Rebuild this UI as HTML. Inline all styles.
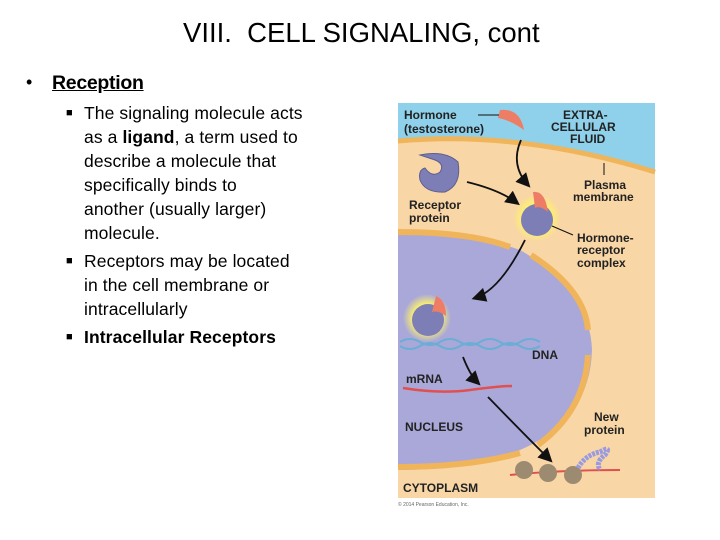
<!DOCTYPE html>
<html><head><meta charset="utf-8"><style>
html,body{margin:0;padding:0;background:#fff}
body{width:720px;height:540px;position:relative;overflow:hidden;font-family:"Liberation Sans",sans-serif;color:#000}
.t{position:absolute;white-space:nowrap}
.l{position:absolute;left:84px;font-size:17.5px;letter-spacing:0.1px;white-space:nowrap}
.b{position:absolute;left:66px;font-size:11px}
</style></head><body>
<div class="t" style="left:183px;top:17px;font-size:27.5px;letter-spacing:0px">VIII.&nbsp; CELL SIGNALING, cont</div>
<div class="t" style="left:26px;top:72px;font-size:18px">•</div>
<div class="t" style="left:52px;top:72px;font-size:19.5px;font-weight:bold;text-decoration:underline;letter-spacing:-0.3px">Reception</div>
<div class="b" style="top:107px">■</div>
<div class="l" style="top:103px">The signaling molecule acts</div>
<div class="l" style="top:127px">as a <b>ligand</b>, a term used to</div>
<div class="l" style="top:151px">describe a molecule that</div>
<div class="l" style="top:175px">specifically binds to</div>
<div class="l" style="top:199px">another (usually larger)</div>
<div class="l" style="top:223px">molecule.</div>
<div class="b" style="top:255px">■</div>
<div class="l" style="top:251px">Receptors may be located</div>
<div class="l" style="top:275px">in the cell membrane or</div>
<div class="l" style="top:299px">intracellularly</div>
<div class="b" style="top:331px">■</div>
<div class="l" style="top:327px;font-weight:bold">Intracellular Receptors</div>

<svg width="720" height="540" style="position:absolute;left:0;top:0" font-family="Liberation Sans,sans-serif" font-weight="bold">
<defs>
<marker id="a" markerWidth="8" markerHeight="8" refX="6" refY="4" orient="auto"><path d="M0,0 L8,4 L0,8 z" fill="#111"/></marker>
<radialGradient id="g"><stop offset="0.55" stop-color="#fff36a"/><stop offset="1" stop-color="#fff36a" stop-opacity="0"/></radialGradient>
</defs>
<rect x="398" y="103" width="257" height="395" fill="#f8d6a6"/>
<path d="M398,103 H655 V172 Q520,130 398,141 Z" fill="#8fd0ea"/>
<path d="M398,141 Q520,130 655,172" fill="none" stroke="#f0b55a" stroke-width="5"/>
<path d="M398,232 Q470,232 520,250 Q590,290 592,350 Q590,420 520,450 Q470,470 398,470 Z" fill="#aaa8d8"/>
<path d="M398,232 Q470,232 510,247" fill="none" stroke="#f0b55a" stroke-width="6"/>
<path d="M531,255 Q585,290 588,330" fill="none" stroke="#f0b55a" stroke-width="6"/>
<path d="M588,355 Q585,410 538,445" fill="none" stroke="#f0b55a" stroke-width="6"/>
<path d="M520,453 Q470,467 398,467" fill="none" stroke="#f0b55a" stroke-width="6"/>
<path d="M500,110 Q520,108 524,130 Q510,120 498,118 Z" fill="#ee7d66"/>
<path d="M420,155 Q445,150 458,162 Q462,185 445,192 Q425,193 420,180 Q418,170 425,168 Q432,178 440,172 Q445,164 435,160 Z" fill="#7d7eb5" stroke="#5d5e90"/>
<circle cx="537" cy="218" r="24" fill="url(#g)"/>
<circle cx="537" cy="220" r="16" fill="#7d7eb5"/>
<path d="M533,192 Q545,190 548,212 Q540,205 535,208 Z" fill="#ee7d66"/>
<circle cx="427" cy="318" r="24" fill="url(#g)"/>
<circle cx="428" cy="320" r="16" fill="#7d7eb5"/>
<path d="M436,296 Q446,300 446,316 Q438,310 432,312 Z" fill="#ee7d66"/>
<path d="M400,342 Q410,336 420,342 T440,342 T460,342 T480,342 T500,342 T520,342 T540,342" fill="none" stroke="#6aaed6" stroke-width="2"/>
<path d="M400,346 Q410,352 420,346 T440,346 T460,346 T480,346 T500,346 T520,346 T540,346" fill="none" stroke="#6aaed6" stroke-width="2"/>
<path d="M403,388 Q440,394 470,390 Q500,386 512,386" fill="none" stroke="#e05050" stroke-width="2.5"/>
<path d="M510,475 Q560,470 620,470" fill="none" stroke="#e05050" stroke-width="2"/>
<circle cx="524" cy="470" r="9" fill="#9c8b70"/><circle cx="548" cy="473" r="9" fill="#9c8b70"/><circle cx="573" cy="475" r="9" fill="#9c8b70"/>
<path d="M578,468 Q585,455 600,452 Q612,445 605,455 Q595,462 600,470" fill="none" stroke="#9a9ae0" stroke-width="5" stroke-dasharray="3,1"/>
<g fill="none" stroke="#111" stroke-width="1.8" marker-end="url(#a)">
<path d="M521,140 Q510,165 528,185"/>
<path d="M467,182 Q500,190 517,203"/>
<path d="M525,240 Q500,290 475,298"/>
<path d="M463,357 Q470,375 478,383"/>
<path d="M488,397 Q520,430 550,460"/>
</g>
<g stroke="#111" stroke-width="1"><line x1="478" y1="115" x2="499" y2="115"/><line x1="604" y1="163" x2="604" y2="175"/><line x1="552" y1="226" x2="573" y2="235"/></g>
<g font-size="12" fill="#222">
<text x="404" y="119">Hormone</text><text x="404" y="133">(testosterone)</text>
<text x="563" y="119">EXTRA-</text><text x="551" y="131">CELLULAR</text><text x="570" y="143">FLUID</text>
<text x="584" y="189">Plasma</text><text x="573" y="201">membrane</text>
<text x="409" y="209">Receptor</text><text x="409" y="222">protein</text>
<text x="577" y="242">Hormone-</text><text x="577" y="254">receptor</text><text x="577" y="267">complex</text>
<text x="532" y="359">DNA</text>
<text x="406" y="383">mRNA</text>
<text x="405" y="431">NUCLEUS</text>
<text x="594" y="421">New</text><text x="584" y="434">protein</text>
<text x="403" y="492">CYTOPLASM</text>
</g>
<text x="398" y="506" font-size="5" font-weight="normal" fill="#666">© 2014 Pearson Education, Inc.</text>
</svg>
</body></html>
